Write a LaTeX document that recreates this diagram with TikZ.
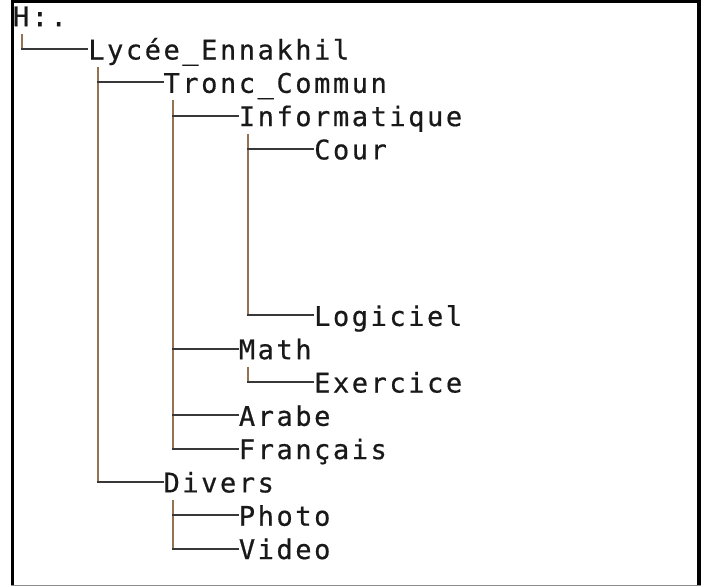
\documentclass[tikz,border=0pt]{standalone}
\usepackage{fontspec}
\newfontfamily\treefont[LetterSpace=9.5,FakeBold=0.6]{DejaVu Sans Mono}
\usetikzlibrary{calc}
\definecolor{spinecol}{RGB}{150,115,80}
\tikzset{
  txt/.style={anchor=base west, inner sep=0pt, outer sep=0pt, font=\treefont\fontsize{27}{30}\selectfont, text=black!90},
  hline/.style={line width=2pt, draw=black!78},
  vline/.style={line width=2pt, draw=spinecol},
  frame/.style={line width=3.5pt, draw=black}
}
\newcommand{\mkpts}[1]{%
  \coordinate (#1-h) at ([yshift=10.5pt]#1.base west);
  \coordinate (#1-s) at ([xshift=9.4pt,yshift=-7.5pt]#1.base west);}
\newcommand{\spine}[2]{% parent, last child
  \draw[vline] (#1-s) -- (#1-s |- #2-h);}
\newcommand{\branch}[2]{% parent, child
  \draw[hline] ([xshift=-1pt]#1-s |- #2-h) -- (#2-h);}
\begin{document}
\begin{tikzpicture}[x=1pt,y=-1pt]
\useasboundingbox (0,0) rectangle (705,587);
% frame
\draw[frame] (12.5,585) -- (12.5,1.7) -- (699,1.7) -- (699,585);
\draw[line width=1.5pt, draw=black!45] (11,585.5) -- (700.5,585.5);
% nodes
\node[txt] (H)      at (13.0, 26.2)  {H:.};
\node[txt] (lyc)    at (88.3, 59.5)  {Lycée\_Ennakhil};
\node[txt] (tronc)  at (163.6, 92.8) {Tronc\_Commun};
\node[txt] (info)   at (238.9, 126.1) {Informatique};
\node[txt] (cour)   at (314.2, 159.4) {Cour};
\node[txt] (logi)   at (314.2, 325.9) {Logiciel};
\node[txt] (math)   at (238.9, 359.2) {Math};
\node[txt] (exo)    at (314.2, 392.5) {Exercice};
\node[txt] (arabe)  at (238.9, 425.8) {Arabe};
\node[txt] (fr)     at (238.9, 459.1) {Français};
\node[txt] (divers) at (163.6, 492.4) {Divers};
\node[txt] (photo)  at (238.9, 525.7) {Photo};
\node[txt] (video)  at (238.9, 559.0) {Video};
\foreach \n in {H,lyc,tronc,info,cour,logi,math,exo,arabe,fr,divers,photo,video}{\mkpts{\n}}
% spines
\spine{H}{lyc}
\spine{lyc}{divers}
\spine{tronc}{fr}
\spine{info}{logi}
\spine{math}{exo}
\spine{divers}{video}
% branches
\branch{H}{lyc}
\branch{lyc}{tronc}
\branch{lyc}{divers}
\branch{tronc}{info}
\branch{tronc}{math}
\branch{tronc}{arabe}
\branch{tronc}{fr}
\branch{info}{cour}
\branch{info}{logi}
\branch{math}{exo}
\branch{divers}{photo}
\branch{divers}{video}
\end{tikzpicture}
\end{document}
